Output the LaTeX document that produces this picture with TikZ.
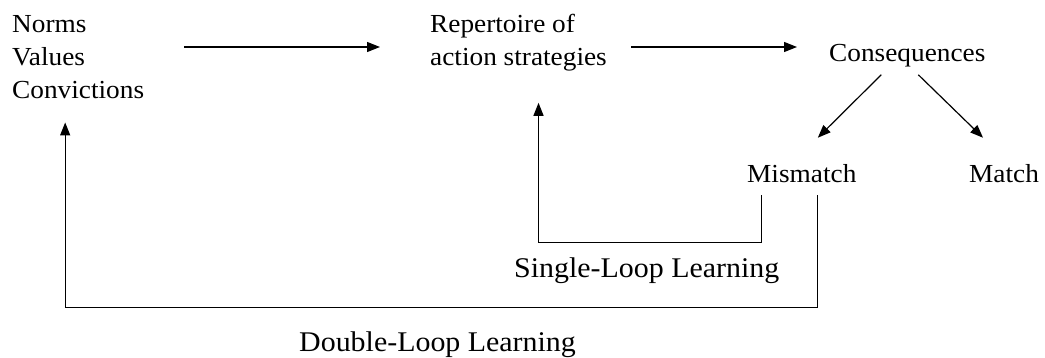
\documentclass[tikz,border=0pt]{standalone}
\usepackage{fontspec}
\setmainfont{Liberation Serif}[FakeStretch=1.05]
\usetikzlibrary{arrows.meta}
\begin{document}
\begin{tikzpicture}
[x=1pt, y=-1pt,
flow/.style={draw, line width=1.2pt, -{Triangle[length=13pt,width=10pt]}},
loop/.style={draw, line width=1.2pt, -{Triangle[length=13pt,width=10pt]}},
looplabel/.style={font=\fontsize{28.5}{34}\selectfont}
]
\tikzset{every node/.style={inner sep=0pt, anchor=base west, align=left,
                            font=\fontsize{26}{33}\selectfont}}
\useasboundingbox (0,0) rectangle (1045,358);
\node (norms) at (12,99) {Norms\\Values\\Convictions};
\node (rep) at (430,66) {Repertoire of\\action strategies};
\node (cons) at (829,62) {Consequences};
\node (mis) at (747,183) {Mismatch};
\node (match) at (969,183) {Match};
\node[looplabel] (single) at (514,278) {Single-Loop Learning};
\node[looplabel] (double) at (299,352) {Double-Loop Learning};
\coordinate (level) at (0,47);
% top row
\draw[flow, shorten <=40pt, shorten >=50pt] (norms.east |- level) -- (rep.west |- level);
\draw[flow, shorten <=24pt, shorten >=32pt] (rep.east |- level) -- (cons.west |- level);
% outcomes
\draw[flow] ([xshift=-26pt,yshift=-7pt]cons.south) -- ([xshift=16pt,yshift=27pt]mis.north);
\draw[flow] ([xshift=11pt,yshift=-7pt]cons.south) -- ([xshift=-21pt,yshift=27pt]match.north);
% loops
\draw[loop] ([xshift=-40pt,yshift=-12pt]mis.south) -- ++(0,47) -| ([xshift=20pt,yshift=-31pt]rep.south);
\draw[loop] ([xshift=16pt,yshift=-12pt]mis.south) -- ++(0,112) -| ([xshift=-13pt,yshift=-23pt]norms.south);
\end{tikzpicture}
\end{document}
